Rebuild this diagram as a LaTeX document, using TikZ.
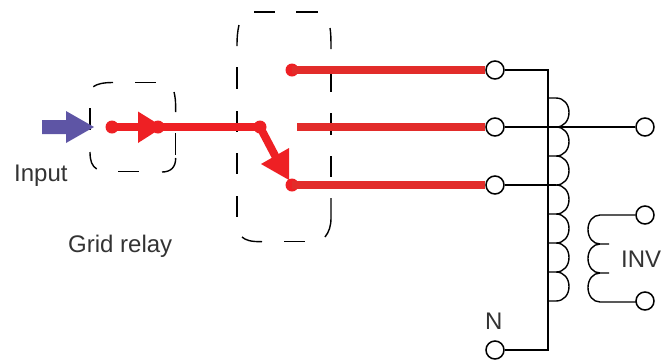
\documentclass[tikz,border=0pt]{standalone}
\usepackage{fontspec}
\setmainfont{Liberation Sans}
\definecolor{relayred}{HTML}{EE2024}
\definecolor{busred}{HTML}{E22C2A}
\definecolor{inblue}{HTML}{5E55A5}
\definecolor{txt}{HTML}{333333}
\newcommand{\humpR}[1]{(556,#1) .. controls (564,#1) and (569,#1+6.5) .. (569,#1+14.5) .. controls (569,#1+22.5) and (564,#1+29) .. (556,#1+29) -- (548,#1+29)}
\newcommand{\humpL}[2]{(600,#1) .. controls (593,#1) and (588,#1+6.5) .. (588,#1+14.5) .. controls (588,#1+22.5) and (593,#1+29) .. (600,#1+29) -- (#2,#1+29)}
\tikzset{
  x=1pt,y=-1pt,
  terminal/.style={circle,draw=black,fill=white,line width=1.5pt,minimum size=18pt,inner sep=0pt},
  wire/.style={draw=black,line width=1.4pt},
  coil/.style={draw=black,line width=1.4pt},
  dashbox/.style={draw=black,line width=1.4pt},
  bus/.style={draw=busred,line width=8pt},
  feed/.style={draw=relayred,line width=8pt},
  dotred/.style={circle,fill=relayred,minimum size=13pt,inner sep=0pt},
  tip/.style={fill=relayred},
  lbl/.style={font=\fontsize{24}{26}\selectfont,text=txt,inner sep=0pt}
}
\begin{document}
\begin{tikzpicture}
\useasboundingbox (0,0) rectangle (667,360);
% small dashed box
\draw[dashbox] (93.3,86.7) .. controls (97,84) and (103,82.5) .. (113,82.5);
\draw[dashbox] (135,82.5) -- (156,82.5);
\draw[dashbox] (174,92) .. controls (175.2,97) and (175.7,100) .. (175.7,112);
\draw[dashbox] (175.7,133) -- (175.7,155);
\draw[dashbox] (175.7,158) .. controls (175.7,167) and (171,172) .. (162,172);
\draw[dashbox] (118,171.7) -- (139,171.7);
\draw[dashbox] (96.7,169) .. controls (92,166) and (90,161) .. (90,152);
\draw[dashbox] (90,108) -- (90,130);
% large dashed box
\draw[dashbox] (254,12) -- (275,12);
\draw[dashbox] (296,12) -- (318,12);
\draw[dashbox] (330,28) .. controls (330.7,32) and (331,36) .. (331,49);
\draw[dashbox] (331,71) -- (331,92);
\draw[dashbox] (331,113) -- (331,135);
\draw[dashbox] (331,156) -- (331,177);
\draw[dashbox] (331,198) -- (331,218) .. controls (331,226) and (329,232) .. (325,237);
\draw[dashbox] (284,241.7) -- (305,241.7);
\draw[dashbox] (242,237) .. controls (246,240.5) and (251,241.7) .. (262,241.7);
\draw[dashbox] (237,196) -- (237,217);
\draw[dashbox] (237,153) -- (237,174);
\draw[dashbox] (237,111) -- (237,132);
\draw[dashbox] (237,67) -- (237,89);
\draw[dashbox] (237,46) .. controls (237,37) and (237.6,31) .. (239,25);
% terminals
\node[terminal] (t1) at (495,70) {};
\node[terminal] (t2) at (495,127) {};
\node[terminal] (t3) at (495,185) {};
\node[terminal] (tn) at (495,350) {};
\node[terminal] (tout) at (645,127) {};
\node[terminal] (ti1) at (645,215) {};
\node[terminal] (ti2) at (645,301) {};
% red buses
\node[dotred] (d1) at (292,70) {};
\node[dotred] (d3) at (292,185) {};
\coordinate (b2) at (297,127);
\draw[bus] (d1.center) -- (t1.west);
\draw[bus] (b2) -- (t2.west);
\draw[bus] (d3.center) -- (t3.west);
% relay
\node[dotred] (r1) at (112,127) {};
\node[dotred] (r2) at (158,127) {};
\node[dotred] (r3) at (260,127) {};
\draw[feed] (r1.center) -- (r3.center);
\draw[feed] (r3.center) -- (280,165);
\fill[tip] (138,111.5) -- (163,127) -- (138,143) -- cycle;
\fill[tip] (289,148) -- (289,180) -- (261,164) -- cycle;
% input arrow
\fill[inblue] (42,120) -- (66,120) -- (66,111) -- (94,127) -- (66,143) -- (66,134) -- (42,134) -- cycle;
% wires
\coordinate (c0) at (548,70);
\coordinate (cn) at (548,350);
\draw[wire] (t1.east) -- (c0) -- (cn) -- (tn.east);
\draw[wire] (t2.east) -- (tout.west);
\draw[wire] (t3.east) -- (556,185);
% main coil
\draw[coil] (548,98) -- (556,98) \humpR{98} \humpR{127} \humpR{156} \humpR{185} \humpR{214} \humpR{243} \humpR{272};
% inverter coil
\draw[coil] (ti1.west) -- (600,215) \humpL{215}{609} \humpL{244}{609} \humpL{273}{636};
% labels
\node[lbl,anchor=base west] (lin) at (14,181) {Input};
\node[lbl,anchor=base west] (lgr) at (68,252) {Grid relay};
\node[lbl,anchor=base west] (ln) at (485,329) {N};
\node[lbl,anchor=base west] (linv) at (621,267) {INV};
\end{tikzpicture}
\end{document}
